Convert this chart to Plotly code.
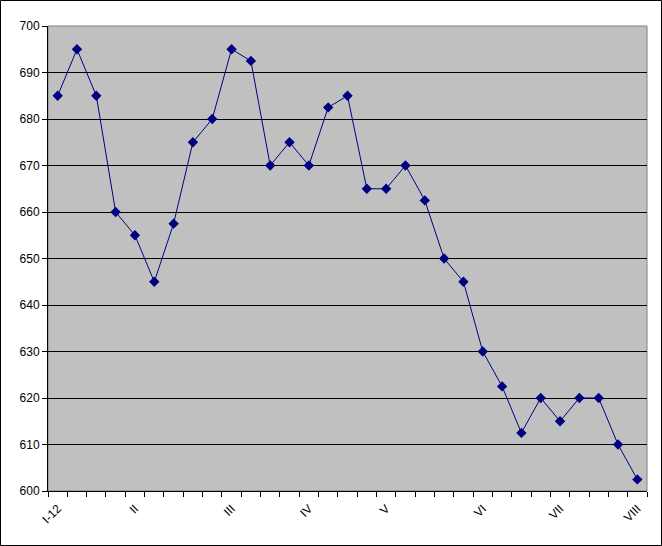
import plotly.graph_objects as go

values = [685, 695, 685, 660, 655, 645, 657.5, 675, 680, 695, 692.5, 670, 675, 670,
          682.5, 685, 665, 665, 670, 662.5, 650, 645, 630, 622.5, 612.5, 620, 615,
          620, 620, 610, 602.5]
label_positions = [0, 4, 9, 13, 17, 22, 26, 30]
label_texts = ["I-12", "II", "III", "IV", "V", "VI", "VII", "VIII"]

W, H = 662, 546
ml, mr, mt, mb = 48, 15, 26, 55
pw, ph = W - ml - mr, H - mt - mb

x = list(range(len(values)))

fig = go.Figure()
fig.add_trace(go.Scatter(
    x=x, y=values, mode="lines+markers",
    line=dict(color="#000080", width=1),
    marker=dict(symbol="diamond", size=8, color="#000080"),
    showlegend=False, hoverinfo="skip",
))

font = dict(family="Liberation Sans, Arial, sans-serif", size=12, color="black")

fig.update_layout(
    width=W, height=H,
    margin=dict(l=ml, r=mr, t=mt, b=mb, autoexpand=False),
    paper_bgcolor="white",
    plot_bgcolor="#C0C0C0",
    font=font,
    xaxis=dict(
        type="linear", range=[-0.5, len(values) - 0.5],
        tickmode="array", tickvals=label_positions, ticktext=label_texts,
        tickangle=-45, ticks="", showgrid=False, zeroline=False,
        showline=True, linecolor="black", linewidth=1,
        minor=dict(ticks="outside", tick0=-0.5, dtick=1, ticklen=5,
                   tickcolor="black", tickwidth=1, showgrid=False),
        tickfont=font, ticklabelstandoff=5,
    ),
    yaxis=dict(
        range=[600, 700], dtick=10, tick0=600,
        ticks="outside", ticklen=5, tickcolor="black",
        showgrid=True, gridcolor="black", gridwidth=1,
        zeroline=False, showline=True, linecolor="black", linewidth=1,
        tickfont=font,
    ),
    shapes=[
        dict(type="rect", xref="paper", yref="paper", x0=0, x1=1, y0=0, y1=1,
             line=dict(color="#808080", width=1), layer="below"),
        dict(type="rect", xref="paper", yref="paper",
             x0=(-ml + 0.5) / pw, x1=1 + (mr - 0.5) / pw,
             y0=(-mb + 0.5) / ph, y1=1 + (mt - 0.5) / ph,
             line=dict(color="black", width=1)),
    ],
)

fig.write_html(
    "out.html",
    config={"displayModeBar": False, "staticPlot": True},
    post_script="document.body.style.margin='0';document.body.style.overflow='hidden';",
)
